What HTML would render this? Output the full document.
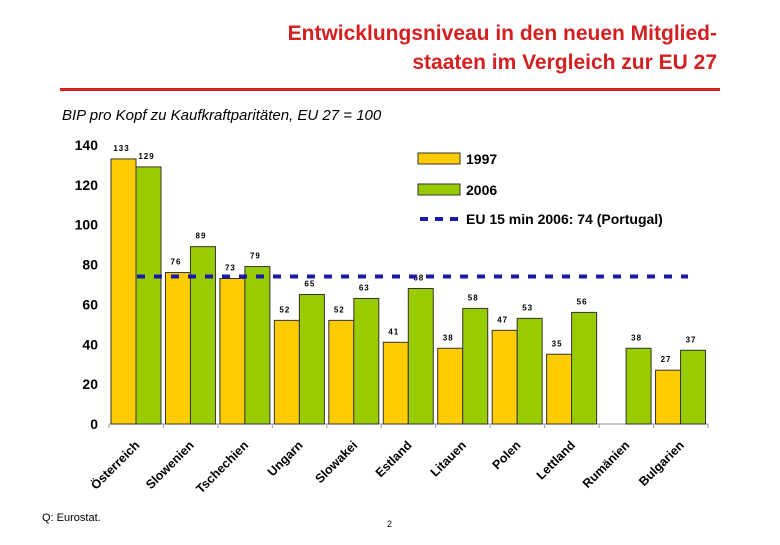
<!DOCTYPE html>
<html><head><meta charset="utf-8"><style>
body{margin:0;background:#fff;width:780px;height:540px;overflow:hidden;font-family:"Liberation Sans",sans-serif}
</style></head><body>
<svg id="c" width="780" height="540" xmlns="http://www.w3.org/2000/svg" font-family="Liberation Sans, sans-serif">
<text x="717" y="40" text-anchor="end" font-size="21" font-weight="bold" fill="#d42020">Entwicklungsniveau in den neuen Mitglied-</text>
<text x="717" y="69" text-anchor="end" font-size="21" font-weight="bold" fill="#d42020">staaten im Vergleich zur EU 27</text>
<rect x="60" y="88" width="660" height="3" fill="#d42020"/>
<text x="62" y="120" font-size="15" font-style="italic" fill="#000">BIP pro Kopf zu Kaufkraftparitäten, EU 27 = 100</text>
<g id="axes"></g><g id="bars"></g>
<g>
<rect x="418" y="153" width="42" height="11" fill="#ffcc00" stroke="#333"/>
<text x="466" y="164" font-size="14" font-weight="bold">1997</text>
<rect x="418" y="184" width="42" height="11" fill="#99cc00" stroke="#333"/>
<text x="466" y="195" font-size="14" font-weight="bold">2006</text>
<line x1="420" y1="219" x2="460" y2="219" stroke="#1a1aa8" stroke-width="4" stroke-dasharray="8,7"/>
<text x="466" y="224" font-size="14" font-weight="bold">EU 15 min 2006: 74 (Portugal)</text>
</g>
<text x="42" y="521" font-size="11">Q: Eurostat.</text>
<text x="387" y="527" font-size="9">2</text>
</svg>
<script>
const categories=["Österreich","Slowenien","Tschechien","Ungarn","Slowakei","Estland","Litauen","Polen","Lettland","Rumänien","Bulgarien"];
const values1997=[133,76,73,52,52,41,38,47,35,null,27];
const values2006=[129,89,79,65,63,68,58,53,56,38,37];
const yTicks=[0,20,40,60,80,100,120,140];
const refValue=74;
const NS="http://www.w3.org/2000/svg";
const x0=109,x1=708,y0=424,y1=145,yMax=140;
const gw=(x1-x0)/categories.length,bw=25;
const y=v=>y0-(v/yMax)*(y0-y1);
function el(t,a,p){const e=document.createElementNS(NS,t);for(const k in a)e.setAttribute(k,a[k]);p.appendChild(e);return e;}
const ax=document.getElementById('axes'),bars=document.getElementById('bars');
const yl=el('line',{x1:x0,y1:y0,x2:x1,y2:y0,stroke:'#999'},ax);


yTicks.forEach(t=>{const tx=el('text',{x:98,y:y(t)+5,'text-anchor':'end','font-size':14,'font-weight':'bold'},ax);tx.textContent=t;

});
categories.forEach((c,i)=>{const gx=x0+i*gw;
el('line',{x1:gx,y1:y0,x2:gx,y2:y0+4,stroke:'#999'},ax);
[[values1997,'#ffcc00','1997'],[values2006,'#99cc00','2006']].forEach(([arr,col,s],j)=>{const v=arr[i];if(v==null)return;
const bx=gx+2+j*bw;
const r=el('rect',{x:bx,y:y(v),width:bw,height:y0-y(v),fill:col,stroke:'#333','stroke-width':1},bars);


const t=el('text',{x:bx+bw/2-2,y:y(v)-8,'text-anchor':'middle','font-size':8,'font-weight':'bold','letter-spacing':'1'},bars);t.textContent=v;

});
const lx=gx+gw/2+4,ly=y0+22;
const lt=el('text',{x:lx,y:ly,'text-anchor':'end','font-size':12.5,'font-weight':'bold',transform:`rotate(-45 ${lx} ${ly})`},ax);lt.textContent=c;

});
el('line',{x1:x1,y1:y0,x2:x1,y2:y0+4,stroke:'#999'},ax);
const rl=el('line',{x1:x0+28,y1:y(refValue),x2:x1-20,y2:y(refValue),stroke:'#1a1aa8','stroke-width':4,'stroke-dasharray':'8,9'},bars);


</script>
</body></html>
